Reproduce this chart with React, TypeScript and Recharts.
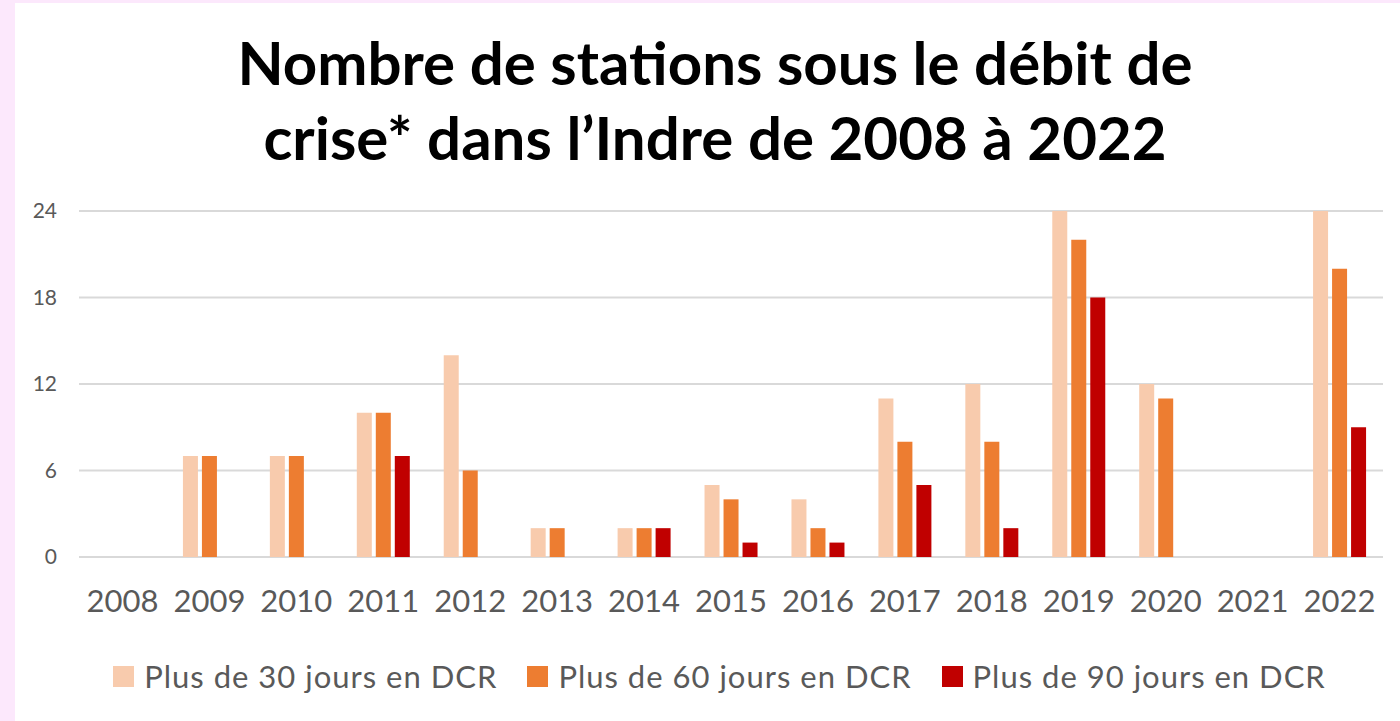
import { BarChart, Bar, XAxis, YAxis, CartesianGrid, Legend } from 'recharts'

const years = ['2008', '2009', '2010', '2011', '2012', '2013', '2014', '2015', '2016', '2017', '2018', '2019', '2020', '2021', '2022']
const plus30 = [0, 7, 7, 10, 14, 2, 2, 5, 4, 11, 12, 24, 12, 0, 24]
const plus60 = [0, 7, 7, 10, 6, 2, 2, 4, 2, 8, 8, 22, 11, 0, 20]
const plus90 = [0, 0, 0, 7, 0, 0, 2, 1, 1, 5, 2, 18, 0, 0, 9]
const yTicks = [0, 6, 12, 18, 24]

const SERIES = [
  { key: 'p30', name: 'Plus de 30 jours en DCR', color: '#f8cbad' },
  { key: 'p60', name: 'Plus de 60 jours en DCR', color: '#ed7d31' },
  { key: 'p90', name: 'Plus de 90 jours en DCR', color: '#c00000' },
]

const data = years.map((y, i) => ({ year: y, p30: plus30[i], p60: plus60[i], p90: plus90[i] }))

const FONT = 'Lato, "Open Sans", sans-serif'

function LegendRow() {
  return (
    <div style={{ display: 'flex', justifyContent: 'center', gap: 30, paddingLeft: 56, fontFamily: FONT, fontSize: 31, letterSpacing: 1, color: '#595959' }}>
      {SERIES.map(s => (
        <div key={s.key} style={{ display: 'flex', alignItems: 'center' }}>
          <span style={{ width: 21, height: 21, background: s.color, marginRight: 10, display: 'inline-block' }} />
          <span>{s.name}</span>
        </div>
      ))}
    </div>
  )
}

export default function App() {
  return (
    <div style={{ position: 'absolute', left: 0, top: 0, width: 1400, height: 721, background: '#fce8fc', overflow: 'hidden' }}>
      <div style={{ position: 'absolute', left: 15, top: 3, right: 0, bottom: 0, background: '#fff' }} />
      <div style={{
        position: 'absolute', left: 0, top: 25, width: 1430, textAlign: 'center',
        fontFamily: FONT, fontWeight: 700, fontSize: 60, lineHeight: '75px', color: '#000',
      }}>
        Nombre de stations sous le débit de<br />crise* dans l’Indre de 2008 à 2022
      </div>
      <div style={{ position: 'absolute', left: 0, top: 0 }}>
        <BarChart
          width={1400}
          height={721}
          data={data}
          margin={{ top: 211, right: 17, bottom: 24, left: 0 }}
          barCategoryGap="19.5%"
          barGap={4}
        >
          <CartesianGrid vertical={false} stroke="#d9d9d9" strokeWidth={2} />
          <XAxis
            dataKey="year"
            axisLine={false}
            tickLine={false}
            height={100}
            tickMargin={27}
            tick={{ fill: '#595959', fontSize: 31, fontFamily: FONT }}
            interval={0}
          />
          <YAxis
            width={79}
            domain={[0, 24]}
            ticks={yTicks}
            axisLine={false}
            tickLine={false}
            tickMargin={16}
            tick={{ fill: '#595959', fontSize: 21, fontFamily: FONT }}
          />
          <Legend verticalAlign="bottom" height={40} content={() => <LegendRow />} />
          {SERIES.map(s => (
            <Bar key={s.key} dataKey={s.key} name={s.name} fill={s.color} barSize={15} isAnimationActive={false} />
          ))}
        </BarChart>
      </div>
    </div>
  )
}
